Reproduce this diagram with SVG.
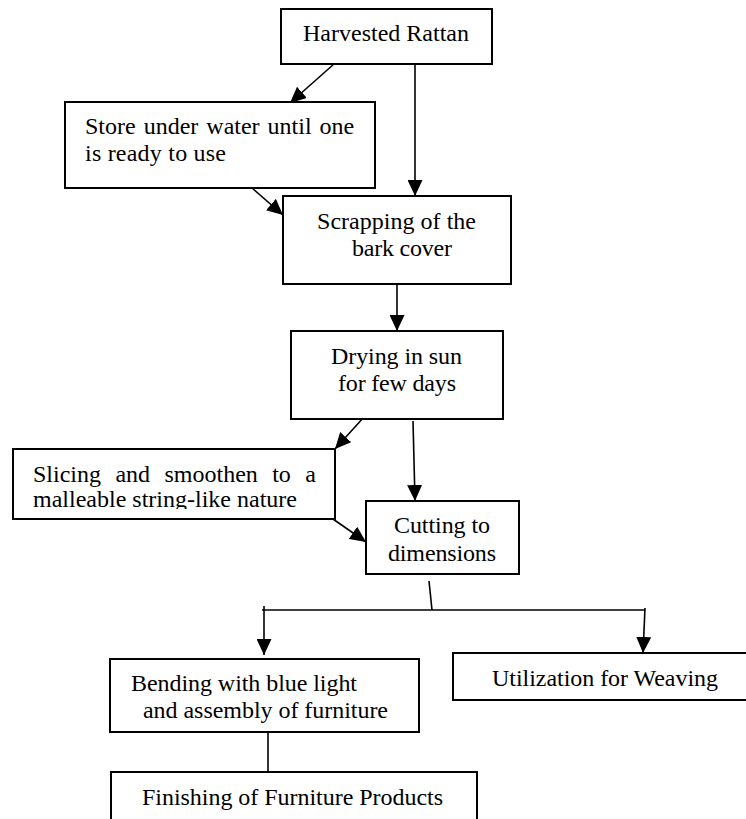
<svg xmlns="http://www.w3.org/2000/svg" width="746" height="819" viewBox="0 0 746 819">
<style>
.box{fill:#fff;stroke:#000;stroke-width:2}
.t{font-family:'Liberation Serif','Times New Roman',serif;font-size:24px;fill:#000}
.c{stroke:#000;stroke-width:1.6;fill:none}
.a{marker-end:url(#ah)}
</style>
<defs>
<marker id="ah" markerUnits="userSpaceOnUse" markerWidth="16" markerHeight="15" refX="16" refY="7.5" orient="auto">
<path d="M0,0 L16,7.5 L0,15 z" fill="#000"/>
</marker>
<clipPath id="clipSlice"><rect x="0" y="440" width="400" height="69"/></clipPath>
</defs>
<rect width="746" height="819" fill="#fff"/>
<g id="connectors">
<line class="c a" x1="334" y1="64" x2="290" y2="103"/>
<line class="c a" x1="415" y1="64" x2="415" y2="196"/>
<line class="c a" x1="252" y1="188" x2="283" y2="215"/>
<line class="c a" x1="397" y1="284" x2="397" y2="331"/>
<line class="c a" x1="364" y1="417" x2="335" y2="449"/>
<line class="c a" x1="413" y1="421" x2="415" y2="501"/>
<line class="c a" x1="333" y1="519" x2="366" y2="542"/>
<line class="c" x1="429" y1="581" x2="432" y2="610"/>
<line class="c" x1="262" y1="610" x2="645" y2="610"/>
<line class="c a" x1="264" y1="606" x2="264" y2="655"/>
<line class="c a" x1="645" y1="608" x2="643" y2="653"/>
<line class="c" x1="268" y1="732" x2="268" y2="772"/>
</g>
<g id="harvested">
<rect class="box" x="281" y="9" width="211" height="55"/>
<text class="t" x="303" y="41" textLength="166">Harvested Rattan</text>
</g>
<g id="store">
<rect class="box" x="65" y="102" width="310" height="86"/>
<text class="t" x="85" y="134" word-spacing="2">Store under water until one</text>
<text class="t" x="85" y="161" textLength="141">is ready to use</text>
</g>
<g id="scrapping">
<rect class="box" x="283" y="196" width="228" height="88"/>
<text class="t" x="317" y="229" textLength="159">Scrapping of the</text>
<text class="t" x="352" y="256" textLength="100">bark cover</text>
</g>
<g id="drying">
<rect class="box" x="291" y="331" width="212" height="88"/>
<text class="t" x="331" y="364" textLength="131">Drying in sun</text>
<text class="t" x="338" y="391" textLength="118">for few days</text>
</g>
<g id="slicing">
<rect class="box" x="13" y="449" width="322" height="70"/>
<text class="t" x="33" y="482" word-spacing="8.4">Slicing and smoothen to a</text>
<text class="t" x="33" y="507" textLength="264" clip-path="url(#clipSlice)">malleable string-like nature</text>
</g>
<g id="cutting">
<rect class="box" x="366" y="501" width="153" height="73"/>
<text class="t" x="394" y="533" textLength="96">Cutting to</text>
<text class="t" x="388" y="561" textLength="108">dimensions</text>
</g>
<g id="bending">
<rect class="box" x="110" y="659" width="309" height="73"/>
<text class="t" x="131" y="691" textLength="226">Bending with blue light</text>
<text class="t" x="143" y="718" textLength="245">and assembly of furniture</text>
</g>
<g id="weaving">
<rect class="box" x="453" y="653" width="310" height="47"/>
<text class="t" x="492" y="686" textLength="226">Utilization for Weaving</text>
</g>
<g id="finishing">
<rect class="box" x="111" y="772" width="366" height="60"/>
<text class="t" x="142" y="805" textLength="301">Finishing of Furniture Products</text>
</g>
</svg>
